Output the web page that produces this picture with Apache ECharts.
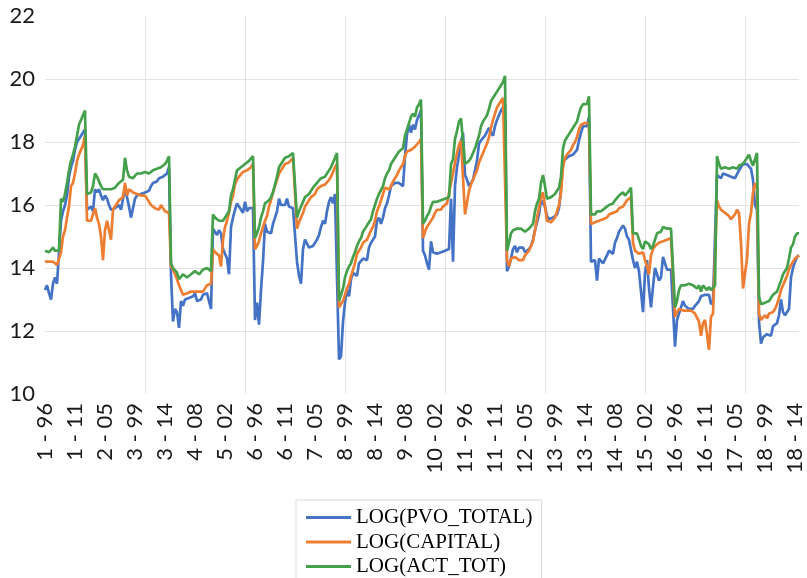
<!DOCTYPE html>
<html>
<head>
<meta charset="utf-8">
<script src="https://cdn.jsdelivr.net/npm/echarts@6/dist/echarts.min.js"></script>
<style>
html,body{margin:0;padding:0;background:#fff;}
#chart{width:807px;height:578px;}
</style>
</head>
<body>
<div id="chart"></div>
<script>
// Cross-sections and years (category labels are "section - yy")
var sections = [1,2,3,4,5,6,7,8,9,10,11,12,13,14,15,16,17,18];
var years = ['96','97','98','99','00','01','02','03','04','05','06','07','08','09','10','11','12','13','14','15','16'];
var yTicks = [10,12,14,16,18,20,22];

var pvoTotal = [
13.3,13.45,13.2,13.0,13.5,13.7,13.5,13.55,15.5,15.8,16.0,16.3,16.9,17.2,17.4,17.75,18.0,18.0,18.2,18.3,18.4,
15.85,15.9,15.95,15.8,16.5,16.4,16.5,16.3,16.15,16.3,16.2,16.0,15.85,15.8,15.9,15.85,16.0,15.85,16.2,16.5,16.25,
15.95,15.6,15.9,16.2,16.3,16.35,16.35,16.35,16.4,16.4,16.45,16.6,16.7,16.75,16.75,16.85,16.85,16.9,16.95,17.0,17.2,
13.8,12.3,12.7,12.6,12.1,12.95,12.8,13.0,13.05,13.05,13.1,13.1,13.2,12.95,12.9,13.0,13.15,13.1,13.2,13.2,12.7,
15.25,15.2,15.05,15.2,15.1,14.6,14.45,14.3,13.8,15.3,15.6,15.85,16.05,15.95,15.9,15.75,16.1,15.8,15.9,15.9,15.9,
12.35,12.9,12.2,13.3,14.2,15.4,15.15,15.2,15.1,15.4,15.6,15.8,16.2,16.0,15.95,16.0,16.2,15.95,16.0,15.9,15.85,
14.2,13.75,13.5,14.6,14.9,14.85,14.65,14.6,14.7,14.8,14.9,15.05,15.3,15.5,15.4,15.8,16.1,16.25,16.05,16.35,16.4,
11.1,11.2,12.3,12.9,13.3,13.1,13.65,13.85,13.8,13.75,14.15,14.15,14.3,14.3,14.25,14.65,14.8,14.9,15.0,15.5,15.6,
15.4,15.6,15.9,16.05,16.3,16.6,16.6,16.7,16.65,16.7,16.7,16.6,17.55,18.25,18.55,18.3,18.55,18.4,18.7,18.85,19.0,
14.55,14.4,14.15,13.95,14.85,14.5,14.45,14.45,14.45,14.5,14.55,14.55,14.6,14.6,16.2,14.2,16.6,17.2,17.6,18.0,18.3,
16.95,16.8,16.6,16.6,16.8,17.1,17.4,17.95,18.05,18.1,18.2,18.2,18.45,18.3,18.2,18.5,18.7,18.85,19.0,19.1,19.2,
13.9,14.05,14.3,14.6,14.7,14.5,14.65,14.7,14.65,14.5,14.55,14.6,14.7,14.9,15.2,15.45,15.7,16.15,16.15,15.95,15.65,
15.55,15.55,15.6,15.6,15.7,15.9,16.5,17.35,17.45,17.5,17.55,17.6,17.6,17.65,17.75,18.05,18.3,18.5,18.5,18.5,18.8,
14.2,14.15,14.25,13.6,14.3,14.25,14.15,14.1,14.4,14.55,14.5,14.45,14.8,14.95,15.15,15.25,15.35,15.25,15.0,14.9,14.9,
14.25,14.0,14.2,13.9,13.95,12.6,13.85,14.25,13.35,12.75,13.4,14.0,14.0,13.6,13.7,14.35,14.35,13.95,14.0,13.95,13.9,
11.5,12.35,12.55,12.6,12.95,12.8,12.75,12.7,12.65,12.7,12.8,12.85,12.95,13.1,13.1,13.15,13.2,13.15,12.85,12.95,12.9,
16.95,16.9,16.85,17.0,16.95,16.95,16.95,16.9,16.95,16.85,16.85,17.1,17.2,17.3,17.3,17.3,17.35,17.15,16.8,16.0,15.85,
12.3,11.6,11.8,11.85,11.9,11.95,11.85,12.15,12.2,12.25,12.5,13.0,12.6,12.5,12.55,12.7,13.7,14.0,14.2,14.35,14.4
];

var capital = [
14.2,14.25,14.2,14.15,14.2,14.15,14.1,14.1,14.5,15.0,15.2,15.6,15.95,16.6,16.7,17.0,17.4,17.6,17.75,17.9,18.2,
15.5,15.45,15.5,15.45,15.9,15.6,15.4,15.0,14.25,15.2,15.5,15.2,14.9,15.85,15.95,16.05,16.15,16.2,16.25,16.7,16.3,
16.5,16.45,16.4,16.4,16.35,16.3,16.3,16.35,16.3,16.25,16.1,16.0,15.95,15.9,15.9,15.85,16.0,15.9,15.8,15.75,15.75,
14.05,13.95,13.8,13.65,13.45,13.3,13.15,13.2,13.2,13.2,13.25,13.2,13.25,13.2,13.25,13.25,13.25,13.3,13.45,13.5,13.5,
14.6,14.5,14.45,14.4,14.05,14.9,15.3,15.5,15.75,16.1,16.3,16.65,16.8,16.9,16.95,17.05,17.05,17.1,17.15,17.2,17.3,
14.6,14.7,14.85,15.1,15.3,15.5,15.65,15.95,16.15,16.4,16.6,16.8,17.0,17.1,17.2,17.3,17.3,17.35,17.4,17.5,17.55,
15.25,15.45,15.6,15.75,15.95,16.05,16.15,16.25,16.3,16.35,16.5,16.55,16.6,16.6,16.65,16.7,16.8,16.9,17.05,17.2,17.3,
12.75,12.8,12.95,13.15,13.35,13.5,13.75,13.95,14.15,14.45,14.55,14.65,14.8,14.85,14.9,15.05,15.2,15.3,15.5,15.8,15.95,
16.15,16.35,16.55,16.55,16.5,16.6,16.75,16.85,16.95,17.1,17.2,17.3,17.55,17.7,17.75,17.75,17.8,17.85,17.9,18.0,18.1,
14.95,15.15,15.3,15.4,15.45,15.6,15.75,15.85,15.8,15.85,15.95,16.0,16.05,16.05,16.7,17.0,17.35,17.65,17.9,18.05,18.0,
15.7,15.65,16.45,16.65,16.8,16.95,17.1,17.35,17.5,17.65,17.8,17.95,18.15,18.45,18.7,18.9,19.1,19.15,19.3,19.4,19.45,
14.25,14.05,14.3,14.3,14.35,14.35,14.25,14.3,14.25,14.4,14.45,14.55,14.7,14.85,15.2,15.6,15.9,16.25,16.4,16.35,15.5,
15.45,15.45,15.5,15.6,15.8,16.0,16.4,17.2,17.5,17.6,17.65,17.75,17.9,18.0,18.15,18.4,18.55,18.6,18.6,18.6,18.6,
15.4,15.4,15.45,15.45,15.5,15.5,15.55,15.6,15.6,15.7,15.75,15.75,15.8,15.8,15.9,15.9,15.95,16.0,16.15,16.2,16.25,
14.8,14.55,14.55,14.45,14.45,14.5,14.25,14.05,13.8,14.4,14.6,14.7,14.75,14.8,14.8,14.85,14.9,14.9,14.95,14.95,14.95,
12.45,12.6,12.7,12.7,12.65,12.65,12.65,12.6,12.65,12.6,12.55,12.6,12.3,11.85,12.25,12.35,11.9,11.4,12.45,12.55,12.55,
16.15,15.95,15.85,15.8,15.75,15.7,15.65,15.55,15.55,15.7,15.85,15.75,14.8,13.35,13.3,14.3,15.4,15.75,16.4,16.7,16.5,
12.55,12.35,12.3,12.5,12.4,12.55,12.5,12.6,12.7,12.85,13.05,13.3,13.45,13.6,13.75,13.95,14.1,14.2,14.3,14.35,14.4
];

var actTot = [
14.55,14.55,14.5,14.55,14.65,14.55,14.6,14.55,16.2,16.1,16.35,16.7,17.1,17.4,17.6,17.85,18.2,18.55,18.6,18.85,19.0,
16.35,16.4,16.4,16.6,17.0,16.9,16.75,16.6,16.5,16.5,16.5,16.5,16.5,16.5,16.55,16.6,16.7,16.75,16.8,17.5,17.1,
16.9,16.85,16.85,16.9,17.0,16.95,17.0,17.05,17.05,17.05,17.0,17.05,17.1,17.1,17.15,17.2,17.2,17.15,17.3,17.4,17.55,
14.15,14.0,13.95,13.85,13.65,13.7,13.8,13.75,13.7,13.75,13.8,13.85,13.9,13.85,13.8,13.85,13.95,13.95,14.0,14.05,13.9,
15.7,15.6,15.55,15.5,15.45,15.5,15.5,15.7,15.8,16.3,16.5,16.8,17.1,17.15,17.2,17.25,17.3,17.35,17.4,17.45,17.55,
14.95,15.1,15.3,15.6,15.8,16.05,16.1,16.15,16.25,16.4,16.65,16.9,17.2,17.3,17.35,17.5,17.55,17.55,17.6,17.65,17.7,
15.6,15.8,15.95,16.1,16.25,16.3,16.35,16.4,16.55,16.6,16.7,16.75,16.85,16.9,16.9,17.0,17.1,17.2,17.35,17.5,17.65,
12.95,13.0,13.35,13.7,13.9,14.05,14.15,14.35,14.5,14.7,14.85,14.95,15.15,15.25,15.3,15.45,15.55,15.8,16.0,16.2,16.35,
16.35,16.6,16.85,17.0,17.1,17.3,17.35,17.5,17.6,17.7,17.75,17.8,18.2,18.4,18.6,18.8,18.9,18.8,19.1,19.2,19.35,
15.4,15.5,15.65,15.75,15.95,16.1,16.15,16.1,16.1,16.15,16.15,16.2,16.25,16.25,17.3,17.45,18.1,18.35,18.65,18.75,18.7,
17.3,17.3,17.4,17.5,17.65,17.8,18.0,18.2,18.5,18.65,18.75,18.85,19.05,19.3,19.4,19.5,19.6,19.7,19.8,19.9,20.1,
14.55,14.8,15.1,15.2,15.15,15.25,15.2,15.25,15.2,15.15,15.15,15.25,15.3,15.4,15.8,16.05,16.2,16.7,16.95,16.6,16.2,
16.25,16.25,16.3,16.35,16.45,16.55,16.9,17.8,18.05,18.15,18.25,18.35,18.45,18.55,18.65,18.9,19.1,19.2,19.15,19.2,19.45,
15.7,15.65,15.7,15.8,15.75,15.8,15.85,15.9,15.9,16.0,16.0,16.05,16.15,16.2,16.3,16.35,16.4,16.3,16.35,16.45,16.55,
15.1,15.05,15.1,15.05,14.7,14.6,14.85,14.8,14.75,14.6,14.7,14.9,15.1,15.05,15.15,15.3,15.25,15.25,15.3,15.25,15.25,
12.75,12.95,13.3,13.45,13.5,13.45,13.4,13.5,13.45,13.45,13.4,13.35,13.45,13.25,13.45,13.45,13.3,13.4,13.3,13.35,13.45,
17.55,17.3,17.15,17.2,17.2,17.15,17.15,17.15,17.2,17.15,17.15,17.25,17.3,17.3,17.4,17.5,17.6,17.4,17.25,17.2,17.65,
13.1,12.85,12.8,12.9,12.95,12.95,13.0,13.15,13.2,13.25,13.3,13.6,13.8,13.85,14.0,14.3,14.65,14.75,15.0,15.1,15.1
];

var seriesNames = ['LOG(PVO_TOTAL)', 'LOG(CAPITAL)', 'LOG(ACT_TOT)'];

var categories = [];
sections.forEach(function (s) { years.forEach(function (y) { categories.push(s + ' - ' + y); }); });

var chart = echarts.init(document.getElementById('chart'), null, {renderer: 'canvas'});
var gridColor = '#e3e3e3';
var ySplitColors = yTicks.map(function (t, i) { return (i === 0 || i === yTicks.length - 1) ? 'rgba(0,0,0,0)' : gridColor; });

function lineSeries(name, data, color) {
  return {
    name: name, type: 'line', data: data, symbol: 'none', showSymbol: false,
    lineStyle: {color: color, width: 2.7}, itemStyle: {color: color},
    animation: false
  };
}

chart.setOption({
  animation: false,
  backgroundColor: '#fff',
  grid: {left: 45, right: 8, top: 16, bottom: 184, containLabel: false},
  xAxis: {
    type: 'category', data: categories, boundaryGap: false,
    axisLine: {show: false}, axisTick: {show: false},
    axisLabel: {interval: 14, rotate: 90, margin: 9, fontFamily: 'Lato', fontSize: 22, color: '#1a1a1a'},
    splitLine: {show: true, interval: function (i) { return i > 0 && i % 50 === 0; }, lineStyle: {color: gridColor, width: 1}}
  },
  yAxis: {
    type: 'value', min: yTicks[0], max: yTicks[yTicks.length - 1], interval: 2,
    axisLine: {show: false}, axisTick: {show: false},
    axisLabel: {margin: 10, fontFamily: 'Lato', fontSize: 22, color: '#1a1a1a'},
    splitLine: {show: true, lineStyle: {color: ySplitColors, width: 1}}
  },
  legend: {
    type: 'plain', orient: 'vertical', left: 296, top: 500, height: 140,
    data: seriesNames,
    icon: 'rect',
    itemWidth: 45, itemHeight: 3, itemGap: 3.5,
    padding: [7, 9, 10, 10],
    borderColor: '#d9d9d9', borderWidth: 1,
    textStyle: {fontFamily: 'Liberation Serif', fontSize: 21, color: '#000'}
  },
  series: [
    lineSeries(seriesNames[0], pvoTotal, '#4472C4'),
    lineSeries(seriesNames[1], capital, '#ED7D31'),
    lineSeries(seriesNames[2], actTot, '#44A04A')
  ]
});
</script>
</body>
</html>
